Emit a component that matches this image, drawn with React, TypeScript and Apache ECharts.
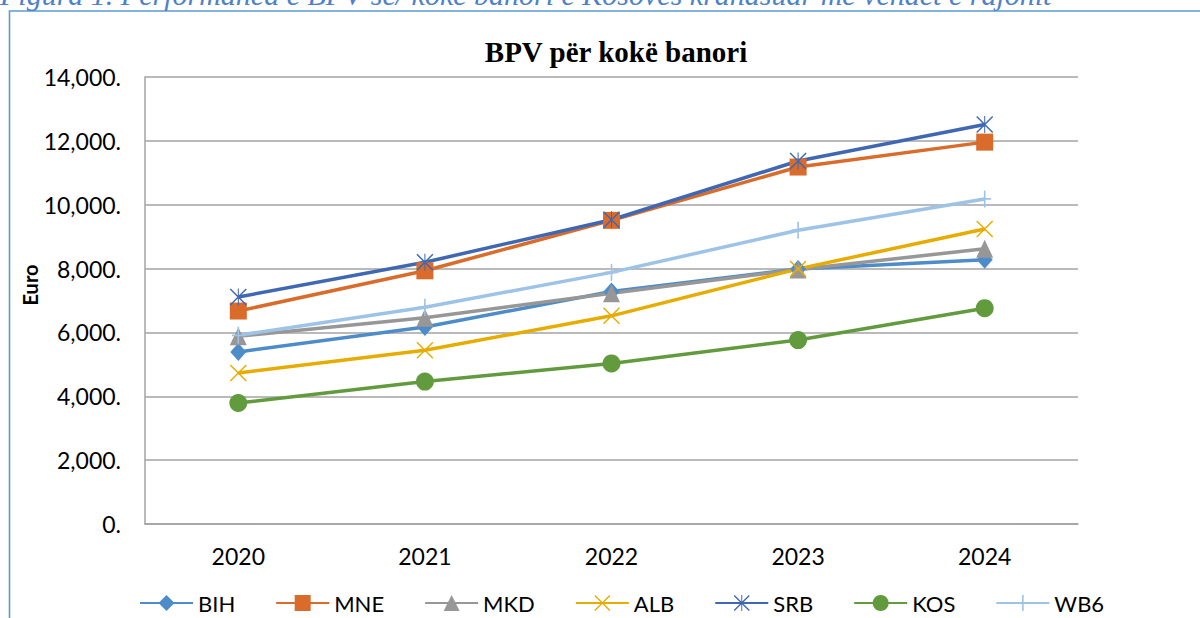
import React, { useEffect, useRef } from "react";
import * as echarts from "echarts";

const years = ["2020", "2021", "2022", "2023", "2024"];
const seriesNames = ["BIH", "MNE", "MKD", "ALB", "SRB", "KOS", "WB6"];
const BIH = [5390, 6170, 7280, 7990, 8280];
const MNE = [6670, 7930, 9510, 11180, 11960];
const MKD = [5880, 6460, 7230, 7970, 8620];
const ALB = [4730, 5440, 6520, 7990, 9240];
const SRB = [7110, 8200, 9530, 11370, 12510];
const KOS = [3790, 4460, 5030, 5760, 6760];
const WB6 = [5910, 6790, 7880, 9200, 10180];
const yTicks = { min: 0, max: 14000, interval: 2000 };

const colors = ["#4d8cc8", "#d96b2b", "#979797", "#e6ac00", "#4068b2", "#629b3e", "#9dc3e6"];

const X_PATH = "path://M0,6 L6,0 L100,94 L94,100 Z M94,0 L100,6 L6,100 L0,94 Z";
const STAR_PATH =
  "path://M0,6 L6,0 L100,94 L94,100 Z M94,0 L100,6 L6,100 L0,94 Z M47,0 L53,0 L53,100 L47,100 Z";
const PLUS_PATH = "path://M45,0 L55,0 L55,100 L45,100 Z M10,45 L90,45 L90,55 L10,55 Z M0,45 L0,55 L0.1,55 L0.1,45 Z M100,45 L100,55 L99.9,55 L99.9,45 Z";

const symbols: any[] = ["diamond", "rect", "triangle", X_PATH, STAR_PATH, "circle", PLUS_PATH];
const symbolSizes: any[] = [[16, 18], 17, [17, 18], 17, 17, 18, [16, 17]];
const dataSets = [BIH, MNE, MKD, ALB, SRB, KOS, WB6];

const FONT = "Lato, 'Noto Sans', sans-serif";

export default function App() {
  const ref = useRef<HTMLDivElement>(null);
  useEffect(() => {
    document.body.style.margin = "0";
    const chart = echarts.init(ref.current!, undefined, { renderer: "svg" });
    chart.setOption({
      animation: false,
      backgroundColor: "#ffffff",
      graphic: [
        {
          type: "rect",
          shape: { x: 9.5, y: 11, width: 1400, height: 800 },
          style: { fill: "none", stroke: "#5b9bd5", lineWidth: 1.6 },
          silent: true,
        },
        {
          type: "text",
          x: 0,
          y: 9,
          style: {
            text: "Figura 1. Performanca e BPV-së/ kokë banori e Kosovës krahasuar me vendet e rajonit",
            fontFamily: "'Liberation Serif', serif",
            fontStyle: "italic",
            fontSize: 30,
            fill: "#4f81c7",
            align: "left",
            verticalAlign: "bottom",
          },
        },
        {
          type: "text",
          x: 30,
          y: 285,
          rotation: Math.PI / 2,
          style: {
            text: "Euro",
            fontFamily: FONT,
            fontWeight: "bold",
            fontSize: 20,
            fill: "#000",
            align: "center",
            verticalAlign: "middle",
          },
        },
      ],
      title: {
        text: "BPV për kokë banori",
        left: 611,
        textAlign: "center",
        top: 32,
        textStyle: {
          fontFamily: "'Liberation Serif', serif",
          fontWeight: "bold",
          fontSize: 29,
          color: "#000",
        },
      },
      legend: {
        data: seriesNames,
        left: 134,
        top: 587,
        itemWidth: 53,
        itemHeight: 20,
        itemGap: 40,
        textStyle: { fontFamily: FONT, fontSize: 22, color: "#000" },
      },
      grid: { left: 145, right: 122, top: 77, bottom: 94 },
      xAxis: {
        type: "category",
        data: years,
        boundaryGap: true,
        axisLine: { show: true, lineStyle: { color: "#a3a3a3", width: 1.5 } },
        axisTick: { show: false },
        axisLabel: { fontFamily: FONT, fontSize: 23, color: "#000", margin: 20 },
      },
      yAxis: {
        type: "value",
        min: yTicks.min,
        max: yTicks.max,
        interval: yTicks.interval,
        axisLine: { show: true, lineStyle: { color: "#a3a3a3", width: 1.5 } },
        axisTick: { show: false },
        splitLine: { show: true, lineStyle: { color: "#a3a3a3", width: 1.5 } },
        axisLabel: {
          fontFamily: FONT,
          fontSize: 23,
          color: "#000",
          margin: 24,
          formatter: (v: number) => v.toLocaleString("en-US") + ".",
        },
      },
      series: dataSets.map((d, i) => ({
        name: seriesNames[i],
        type: "line",
        data: d,
        symbol: symbols[i],
        symbolSize: symbolSizes[i],
        showAllSymbol: true,
        lineStyle: { color: colors[i], width: 3.5 },
        itemStyle: { color: colors[i], borderWidth: 0 },
        emphasis: { disabled: true },
      })),
    });
    return () => chart.dispose();
  }, []);
  return <div ref={ref} style={{ width: 1200, height: 618 }} />;
}
